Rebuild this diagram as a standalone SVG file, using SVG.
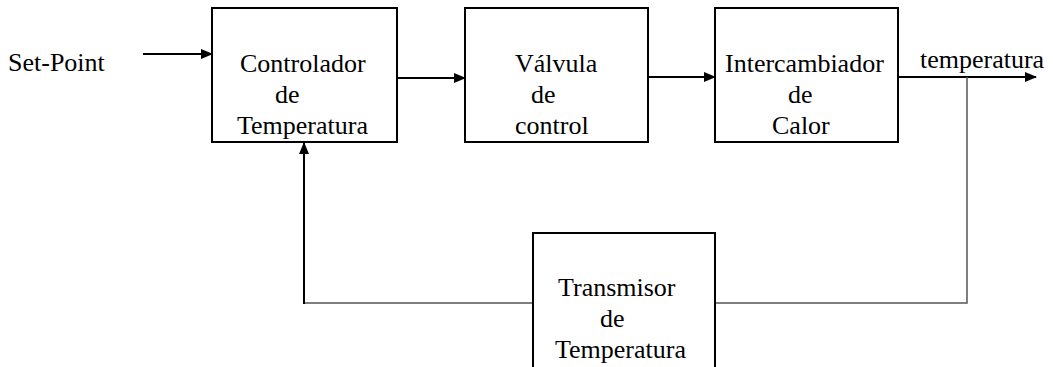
<svg xmlns="http://www.w3.org/2000/svg" width="1053" height="367" viewBox="0 0 1053 367">
<style>
  text { font-family: "Liberation Serif", "DejaVu Serif", serif; font-size: 26px; fill: #000; }
  .box { fill: #fff; stroke: #000; stroke-width: 2; }
  .wire { fill: none; stroke: #000; stroke-width: 2; }
  .fb { fill: none; stroke: #555; stroke-width: 1.5; }
</style>
<defs>
  <marker id="ah" markerWidth="12" markerHeight="10" refX="11" refY="5" orient="auto" markerUnits="userSpaceOnUse">
    <path d="M0,0 L12,5 L0,10 Z" fill="#000"/>
  </marker>
</defs>
<rect width="1053" height="367" fill="#fff"/>
<g id="connectors">
  <line class="wire" x1="143" y1="54" x2="212" y2="54" marker-end="url(#ah)"/>
  <line class="wire" x1="397" y1="78" x2="465" y2="78" marker-end="url(#ah)"/>
  <line class="wire" x1="648" y1="77" x2="715" y2="77" marker-end="url(#ah)"/>
  <line class="wire" x1="898" y1="77" x2="1036" y2="77" marker-end="url(#ah)"/>
  <polyline class="fb" points="967,77 967,303 715,303"/>
  <polyline class="fb" points="533,303 304,303"/>
  <line class="wire" x1="304" y1="304" x2="304" y2="143" marker-end="url(#ah)"/>
</g>
<text id="setpoint" x="8" y="71">Set-Point</text>
<text id="out-label" x="920" y="68">temperatura</text>
<g id="controlador">
  <rect class="box" x="212" y="8" width="185" height="134"/>
  <text x="240" y="72">Controlador</text>
  <text x="275" y="103">de</text>
  <text x="237" y="134">Temperatura</text>
</g>
<g id="valvula">
  <rect class="box" x="465" y="8" width="183" height="134"/>
  <text x="515" y="72">Válvula</text>
  <text x="531" y="103">de</text>
  <text x="515" y="134">control</text>
</g>
<g id="intercambiador">
  <rect class="box" x="715" y="8" width="183" height="134"/>
  <text x="725" y="72">Intercambiador</text>
  <text x="788" y="103">de</text>
  <text x="772" y="134">Calor</text>
</g>
<g id="transmisor">
  <rect class="box" x="533" y="233" width="182" height="145"/>
  <text x="558" y="296">Transmisor</text>
  <text x="600" y="327">de</text>
  <text x="555" y="358">Temperatura</text>
</g>
</svg>
